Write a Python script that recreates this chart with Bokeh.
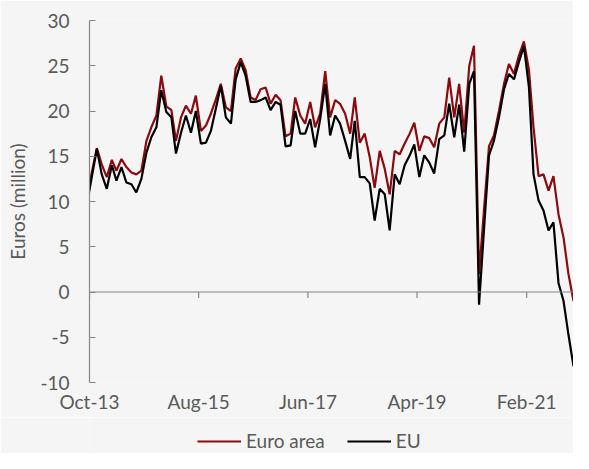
import math
import pandas as pd
from bokeh.plotting import figure
from bokeh.layouts import column
from bokeh.models import (Range1d, FixedTicker, DatetimeTickFormatter, Span,
                          Legend, LegendItem, ColumnDataSource)
from bokeh.embed import file_html
from bokeh.resources import INLINE

# Monthly values, Sep-13 .. Nov-21 (Euros, million)
euro_area = [10.4, 13.2,
             15.9, 14.1, 12.7, 14.6, 13.4, 14.7, 13.8, 13.2, 13.0, 13.4,
             16.7, 18.2, 19.5, 23.9, 20.5, 20.1, 16.7, 19.3, 20.6, 19.7,
             21.7, 17.8, 18.4, 19.7, 21.3, 23.0, 20.4, 20.0, 24.7, 25.8,
             24.5, 21.5, 21.2, 22.4, 22.6, 20.8, 21.8, 21.2, 17.2, 17.5,
             21.5, 19.5, 18.6, 21.0, 18.2, 19.7, 24.4, 19.3, 21.2, 20.8,
             19.7, 17.5, 21.5, 16.5, 17.5, 14.9, 11.5, 15.6, 13.6, 10.8,
             15.6, 15.2, 16.4, 17.5, 18.7, 15.6, 17.2, 17.0, 16.0, 18.6,
             19.3, 23.7, 19.3, 23.0, 17.6, 25.0, 27.2, 2.0, 9.0, 16.1,
             17.3, 20.0, 23.0, 25.2, 24.1, 26.1, 27.7, 24.5, 18.2, 12.8,
             13.0, 11.2, 12.8, 8.6, 6.0, 2.0, -1.0]
eu = [9.7, 12.7,
      15.8, 13.0, 11.4, 14.0, 12.3, 13.8, 12.1, 11.9, 11.0, 12.5,
      15.4, 17.1, 18.2, 22.3, 19.9, 19.3, 15.3, 17.6, 19.5, 17.6,
      20.0, 16.4, 16.5, 17.8, 20.3, 22.8, 19.3, 18.6, 23.5, 25.4,
      23.9, 21.0, 21.0, 21.2, 21.5, 20.1, 21.0, 20.7, 16.1, 16.2,
      20.0, 17.5, 17.5, 19.1, 16.0, 19.1, 23.0, 17.3, 19.5, 18.6,
      16.7, 14.7, 18.9, 12.7, 12.7, 12.0, 7.9, 11.4, 10.8, 6.8,
      13.0, 11.9, 14.0, 15.1, 16.3, 12.7, 15.1, 14.3, 13.1, 16.9,
      17.3, 20.8, 17.1, 20.7, 15.5, 23.0, 24.4, -1.4, 6.8, 15.1,
      16.7, 19.3, 22.4, 24.1, 23.5, 25.4, 27.2, 22.6, 13.0, 10.1,
      9.0, 6.8, 7.7, 1.0, -1.0, -4.7, -8.2]
first_month = "2013-09-01"
x_tick_labels = ["Oct-13", "Aug-15", "Jun-17", "Apr-19", "Feb-21"]
y_ticks = [-10, -5, 0, 5, 10, 15, 20, 25, 30]
y_tick_labels = ["-10", "-5", "0", "5", "10", "15", "20", "25", "30"]
series_names = ["Euro area", "EU"]
series_cols = ["ea", "eu"]
series_colors = ["#8b0a0f", "#000000"]

dates = pd.date_range(first_month, periods=len(eu), freq="MS") + pd.Timedelta(days=14)
tick_dates = pd.to_datetime(x_tick_labels, format="%b-%y")
epoch = pd.Timestamp("1970-01-01")
tick_ms = [float((t - epoch) / pd.Timedelta(milliseconds=1)) for t in tick_dates]

src = ColumnDataSource(dict(date=dates, ea=euro_area, eu=eu))
tick_src = ColumnDataSource(dict(x=tick_ms, y=[0] * len(tick_ms)))

BG = "#f5f5f5"
AX = "#868686"
TXT = "#595959"
FONT = "Lato"
FS = "19px"

# ---------------- main chart ----------------
p = figure(width=573, height=417, output_backend="svg", toolbar_location=None,
           x_axis_type="datetime",
           x_range=Range1d(start=tick_dates[0], end=dates[-1]),
           y_range=Range1d(start=y_ticks[0], end=y_ticks[-1]),
           min_border_left=89, min_border_right=0, min_border_top=20,
           min_border_bottom=35)
p.background_fill_color = BG
p.border_fill_color = BG
p.outline_line_color = None
p.grid.visible = False

# zero line with downward ticks
p.add_layout(Span(location=0, dimension="width", line_color=AX, line_width=1.2))
p.ray(x="x", y="y", source=tick_src, length=6, length_units="screen",
      angle=-math.pi / 2, line_color=AX, line_width=1.2)

for col, color in zip(series_cols, series_colors):
    p.line("date", col, source=src, line_color=color, line_width=2.2)

xa = p.xaxis[0]
xa.ticker = FixedTicker(ticks=tick_ms)
fmt = "%b-%y"
xa.formatter = DatetimeTickFormatter(microseconds=fmt, milliseconds=fmt, seconds=fmt,
                                     minsec=fmt, minutes=fmt, hourmin=fmt, hours=fmt,
                                     days=fmt, months=fmt, years=fmt)
xa.axis_line_color = None
xa.major_tick_line_color = None
xa.minor_tick_line_color = None
xa.major_tick_out = 0
xa.major_tick_in = 0
xa.major_label_standoff = 7
xa.major_label_text_align = "center"
xa.major_label_text_font = FONT
xa.major_label_text_font_size = FS
xa.major_label_text_color = TXT

ya = p.yaxis[0]
ya.ticker = FixedTicker(ticks=y_ticks)
ya.major_label_overrides = {v: s for v, s in zip(y_ticks, y_tick_labels)}
ya.axis_line_color = AX
ya.axis_line_width = 1.2
ya.major_tick_line_color = AX
ya.major_tick_line_width = 1.2
ya.major_tick_in = 6
ya.major_tick_out = 0
ya.minor_tick_line_color = None
ya.major_label_standoff = 20
ya.major_label_text_font = FONT
ya.major_label_text_font_size = FS
ya.major_label_text_color = TXT
ya.axis_label = "Euros (million)"
ya.axis_label_text_font = FONT
ya.axis_label_text_font_size = FS
ya.axis_label_text_font_style = "normal"
ya.axis_label_text_color = TXT
ya.axis_label_standoff = 8

# ---------------- legend strip (same series, value window above the data) ----------------
pl = figure(width=573, height=36, output_backend="svg", toolbar_location=None,
            x_axis_type="datetime", x_range=p.x_range,
            y_range=Range1d(y_ticks[-1] + 20, y_ticks[-1] + 30),
            min_border_left=0, min_border_right=0, min_border_top=0,
            min_border_bottom=0)
pl.background_fill_color = BG
pl.border_fill_color = BG
pl.outline_line_color = None
pl.grid.visible = False
pl.axis.visible = False
items = []
for name, col, color in zip(series_names, series_cols, series_colors):
    r = pl.line("date", col, source=src, line_color=color, line_width=2.2)
    items.append(LegendItem(label=name, renderers=[r]))
legend = Legend(items=items, orientation="horizontal", location=(108, 1),
                padding=0, margin=0, spacing=22, label_standoff=5,
                glyph_width=44, glyph_height=20, label_height=20,
                label_text_font=FONT, label_text_font_size=FS,
                label_text_color=TXT, background_fill_alpha=0,
                border_line_color=None)
pl.add_layout(legend)

layout = column(p, pl, spacing=0)
open("out.html", "w").write(file_html(layout, INLINE))
